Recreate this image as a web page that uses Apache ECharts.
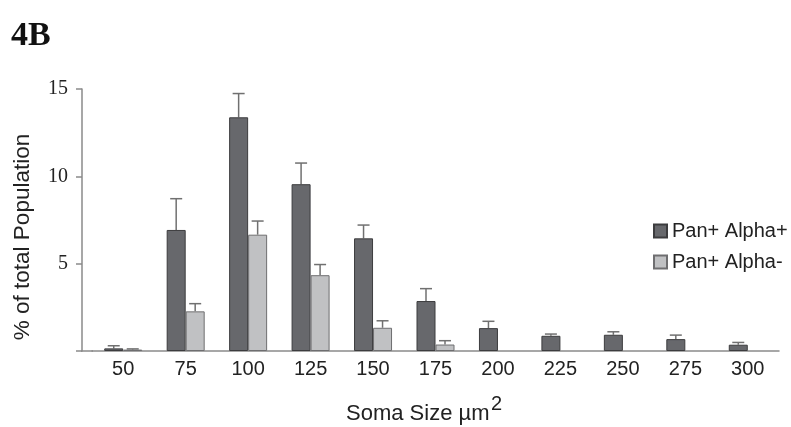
<!DOCTYPE html>
<html lang="en">
<head>
    <meta charset="utf-8">
    <title>4B</title>
    <script src="https://cdn.jsdelivr.net/npm/echarts@6/dist/echarts.min.js"></script>
    <style>
        html, body {margin: 0; padding: 0; background: #fff;}
        #main {width: 791px; height: 427px;}
    </style>
</head>
<body>
<div id="main"></div>
<script type="text/javascript">

    var sizes = ['50', '75', '100', '125', '150', '175', '200', '225', '250', '275', '300'];
    var alphaPlus = [0.15, 6.93, 13.38, 9.55, 6.45, 2.86, 1.31, 0.87, 0.93, 0.68, 0.36];
    var alphaPlusErr = [0.15, 1.79, 1.36, 1.21, 0.76, 0.71, 0.39, 0.1, 0.17, 0.23, 0.13];
    var alphaMinus = [0.08, 2.27, 6.66, 4.34, 1.33, 0.37, null, null, null, null, null];
    var alphaMinusErr = [0.04, 0.44, 0.78, 0.61, 0.4, 0.22, null, null, null, null, null];
    var yTicks = [0, 5, 10, 15];

    var barW = 19;

    // error bar drawn above each bar, shifted to the bar's centre
    function errorBars(vals, errs, shift) {
        var data = [];
        for (var i = 0; i < vals.length; i++) {
            if (vals[i] != null) data.push([i, vals[i], vals[i] + errs[i]]);
        }
        return {
            type: 'custom',
            z: 1,
            silent: true,
            renderItem: function (params, api) {
                var lo = api.coord([api.value(0), api.value(1)]);
                var hi = api.coord([api.value(0), api.value(2)]);
                var x = lo[0] + shift;
                var style = {stroke: '#707070', lineWidth: 1.5};
                return {
                    type: 'group',
                    children: [
                        {type: 'line', shape: {x1: x, y1: lo[1], x2: x, y2: hi[1]}, style: style},
                        {type: 'line', shape: {x1: x - 6, y1: hi[1], x2: x + 6, y2: hi[1]}, style: style}
                    ]
                };
            },
            data: data
        };
    }

    var myChart = echarts.init(document.getElementById('main'));
    var option = {
        animation: false,
        backgroundColor: '#fff',
        grid: {left: 92, right: 12, top: 89, bottom: 76},
        legend: {
            orient: 'vertical',
            left: 648,
            top: 216,
            itemWidth: 13,
            itemHeight: 13,
            itemGap: 11,
            icon: 'rect',
            textStyle: {fontFamily: 'Liberation Sans', fontSize: 20, color: '#222'},
            data: ['Pan+ Alpha+', 'Pan+ Alpha-']
        },
        xAxis: {
            type: 'category',
            data: sizes,
            boundaryGap: true,
            axisLine: {lineStyle: {color: '#8a8a8a', width: 1.5}},
            axisTick: {
                length: 6,
                lineStyle: {color: '#8a8a8a', width: 1.5},
                interval: function (idx) { return idx !== 0; }
            },
            axisLabel: {fontFamily: 'Liberation Sans', fontSize: 20, color: '#222', margin: 8}
        },
        yAxis: {
            type: 'value',
            min: yTicks[0],
            max: yTicks[yTicks.length - 1],
            interval: 5,
            offset: 10,
            splitLine: {show: false},
            axisLine: {show: true, lineStyle: {color: '#8a8a8a', width: 1.5}},
            axisTick: {show: true, length: 6, lineStyle: {color: '#8a8a8a', width: 1.5}},
            axisLabel: {
                fontFamily: 'Liberation Serif',
                fontSize: 20,
                color: '#222',
                margin: 14,
                formatter: function (v) { return v === 0 ? '' : String(v); }
            }
        },
        graphic: [
            {type: 'text', left: 11, top: 19, style: {text: '4B', font: 'bold 34px "Liberation Serif"', fill: '#111'}},
            {type: 'line', shape: {x1: 81, y1: 351, x2: 93, y2: 351}, style: {stroke: '#8a8a8a', lineWidth: 1.5}},
            {
                type: 'text', x: 23, y: 237, rotation: Math.PI / 2,
                style: {text: '% of total Population', font: '22.5px "Liberation Sans"', fill: '#222', align: 'center', verticalAlign: 'middle'}
            },
            {type: 'text', x: 346, y: 425, style: {text: 'Soma Size \u00b5m', font: '22px "Liberation Sans"', fill: '#222', verticalAlign: 'bottom'}},
            {type: 'text', x: 491, y: 414, style: {text: '2', font: '20px "Liberation Sans"', fill: '#222', verticalAlign: 'bottom'}}
        ],
        series: [
            {
                name: 'Pan+ Alpha+',
                type: 'bar',
                barWidth: barW,
                barGap: '0%',
                itemStyle: {color: '#67686c', borderColor: '#3c3c3e', borderWidth: 1},
                data: alphaPlus
            },
            {
                name: 'Pan+ Alpha-',
                type: 'bar',
                barWidth: barW,
                barGap: '0%',
                itemStyle: {color: '#c0c1c3', borderColor: '#6e6e70', borderWidth: 1},
                data: alphaMinus
            },
            errorBars(alphaPlus, alphaPlusErr, -barW / 2),
            errorBars(alphaMinus, alphaMinusErr, barW / 2)
        ]
    };
    myChart.setOption(option);

</script>
</body>
</html>
